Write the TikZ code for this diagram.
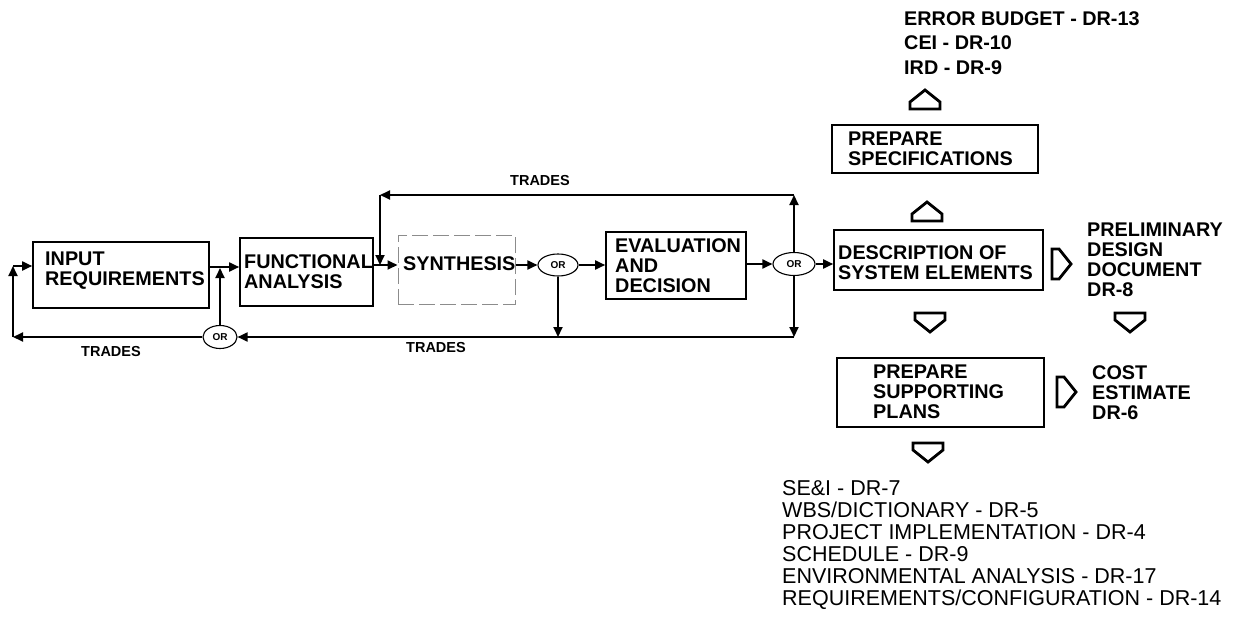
\documentclass[tikz,border=0pt]{standalone}
\usepackage{fontspec}
\setmainfont{Liberation Sans}
\usetikzlibrary{arrows.meta,shapes.geometric}
\begin{document}
\begin{tikzpicture}[x=1pt,y=-1pt,
  box/.style={draw, line width=1.6pt, inner sep=0pt},
  fbox/.style={draw=black!45, line width=1pt, dash pattern=on 16pt off 5pt, inner sep=0pt},
  lbl/.style={font=\fontsize{19.8}{20}\selectfont\bfseries, align=left, inner sep=0pt, anchor=west},
  small/.style={font=\fontsize{14.5}{16}\selectfont\bfseries, inner sep=0pt},
  orn/.style={draw, ellipse, line width=1.1pt, inner sep=0pt, font=\fontsize{10}{11}\selectfont\bfseries},
  conn/.style={line width=1.8pt, -{Triangle[length=10pt,width=9pt]}},
  listtext/.style={font=\fontsize{21.5}{22}\selectfont, align=left, inner sep=0pt, anchor=west},
  hollow/.pic={\draw[line width=2.8pt, line join=miter] (-9,-15) -- (-2,-15) -- (10,0) -- (-2,15) -- (-9,15) -- cycle;}
]
\useasboundingbox (0,0) rectangle (1236,618);

% boxes
\node[box, minimum width=176pt, minimum height=66pt] (inp) at (121,275) {};
\node[box, minimum width=133pt, minimum height=68pt] (fun) at (306.5,272) {};
\node[fbox, minimum width=117pt, minimum height=69pt] (syn) at (456.5,269.5) {};
\node[box, minimum width=140pt, minimum height=67pt] (eva) at (676,265.5) {};
\node[box, minimum width=209pt, minimum height=60pt] (des) at (938.5,260) {};
\node[box, minimum width=206pt, minimum height=48pt] (spe) at (935,149) {};
\node[box, minimum width=207pt, minimum height=69pt] (sup) at (940.5,392.5) {};

% box texts
\node[lbl] (inpt) at (45,271) {INPUT\\REQUIREMENTS};
\node[lbl] (funt) at (244,272) {FUNCTIONAL\\ANALYSIS};
\node[lbl] (synt) at (403,264) {SYNTHESIS};
\node[lbl] (evat) at (615,266) {EVALUATION\\AND\\DECISION};
\node[lbl] (dest) at (838,263) {DESCRIPTION OF\\SYSTEM ELEMENTS};
\node[lbl] (spet) at (848,149) {PREPARE\\SPECIFICATIONS};
\node[lbl] (supt) at (873,392) {PREPARE\\SUPPORTING\\PLANS};

% outputs
\node[lbl, font=\fontsize{19.8}{24.5}\selectfont\bfseries] (errt) at (904,43) {ERROR BUDGET - DR-13\\CEI - DR-10\\IRD - DR-9};
\node[lbl] (pdd) at (1087,260) {PRELIMINARY\\DESIGN\\DOCUMENT\\DR-8};
\node[lbl] (cost) at (1092,393) {COST\\ESTIMATE\\DR-6};
\node[listtext] (plans) at (782,545) {SE\&I - DR-7\\WBS/DICTIONARY - DR-5\\PROJECT IMPLEMENTATION - DR-4\\SCHEDULE - DR-9\\ENVIRONMENTAL ANALYSIS - DR-17\\REQUIREMENTS/CONFIGURATION - DR-14};

% OR nodes
\node[orn, minimum width=34pt, minimum height=23pt] (or0) at (220,337) {OR};
\node[orn, minimum width=40pt, minimum height=22pt] (or1) at (558,265) {OR};
\node[orn, minimum width=42pt, minimum height=23pt] (or2) at (794,264) {OR};

% labels
\node[small] (tr1) at (111,352) {TRADES};
\node[small] (tr2) at (436,348) {TRADES};
\node[small] (tr3) at (540,181) {TRADES};

% coordinates
\coordinate (t1) at (794,195);
\coordinate (t2) at (380,195);
\coordinate (t3) at (380,265);
\coordinate (b1) at (794,337);
\coordinate (l1) at (13,337);
\coordinate (l2) at (13,266);
\coordinate (u1) at (220,268);

% main flow
\draw[conn] (inp.east |- 0,267) -- (fun.west |- 0,267);
\draw[conn] (fun.east |- 0,265) -- (syn.west |- 0,265);
\draw[conn] (syn.east |- or1) -- (or1.west);
\draw[conn] (or1.east) -- (eva.west |- or1);
\draw[conn] (eva.east |- or2) -- (or2.west);
\draw[conn] (or2.east) -- (des.west |- or2);

% top trades loop
\draw[conn] (or2.north) -- (t1);
\draw[conn] (t1) -- (t2);
\draw[conn] (t2) -- (t3);

% bottom trades loop
\draw[conn] (or2.south) -- (b1);
\draw[conn] (b1) -- (or0.east);
\draw[conn] (or1.south) -- (or1 |- b1);
\draw[conn] (or0.north) -- (u1);
\draw[conn] (or0.west) -- (l1);
\draw[conn] (l1) -- (l2);
\draw[conn] (l2) -- (inp.west |- l2);

% hollow arrows
\pic[rotate=90] at (925,100) {hollow};
\pic[rotate=90] at (927,212) {hollow};
\pic at (1061,264) {hollow};
\pic[rotate=-90] at (930,322) {hollow};
\pic[rotate=-90] at (1130,322) {hollow};
\pic at (1066,392) {hollow};
\pic[rotate=-90] at (928,452) {hollow};
\end{tikzpicture}
\end{document}
